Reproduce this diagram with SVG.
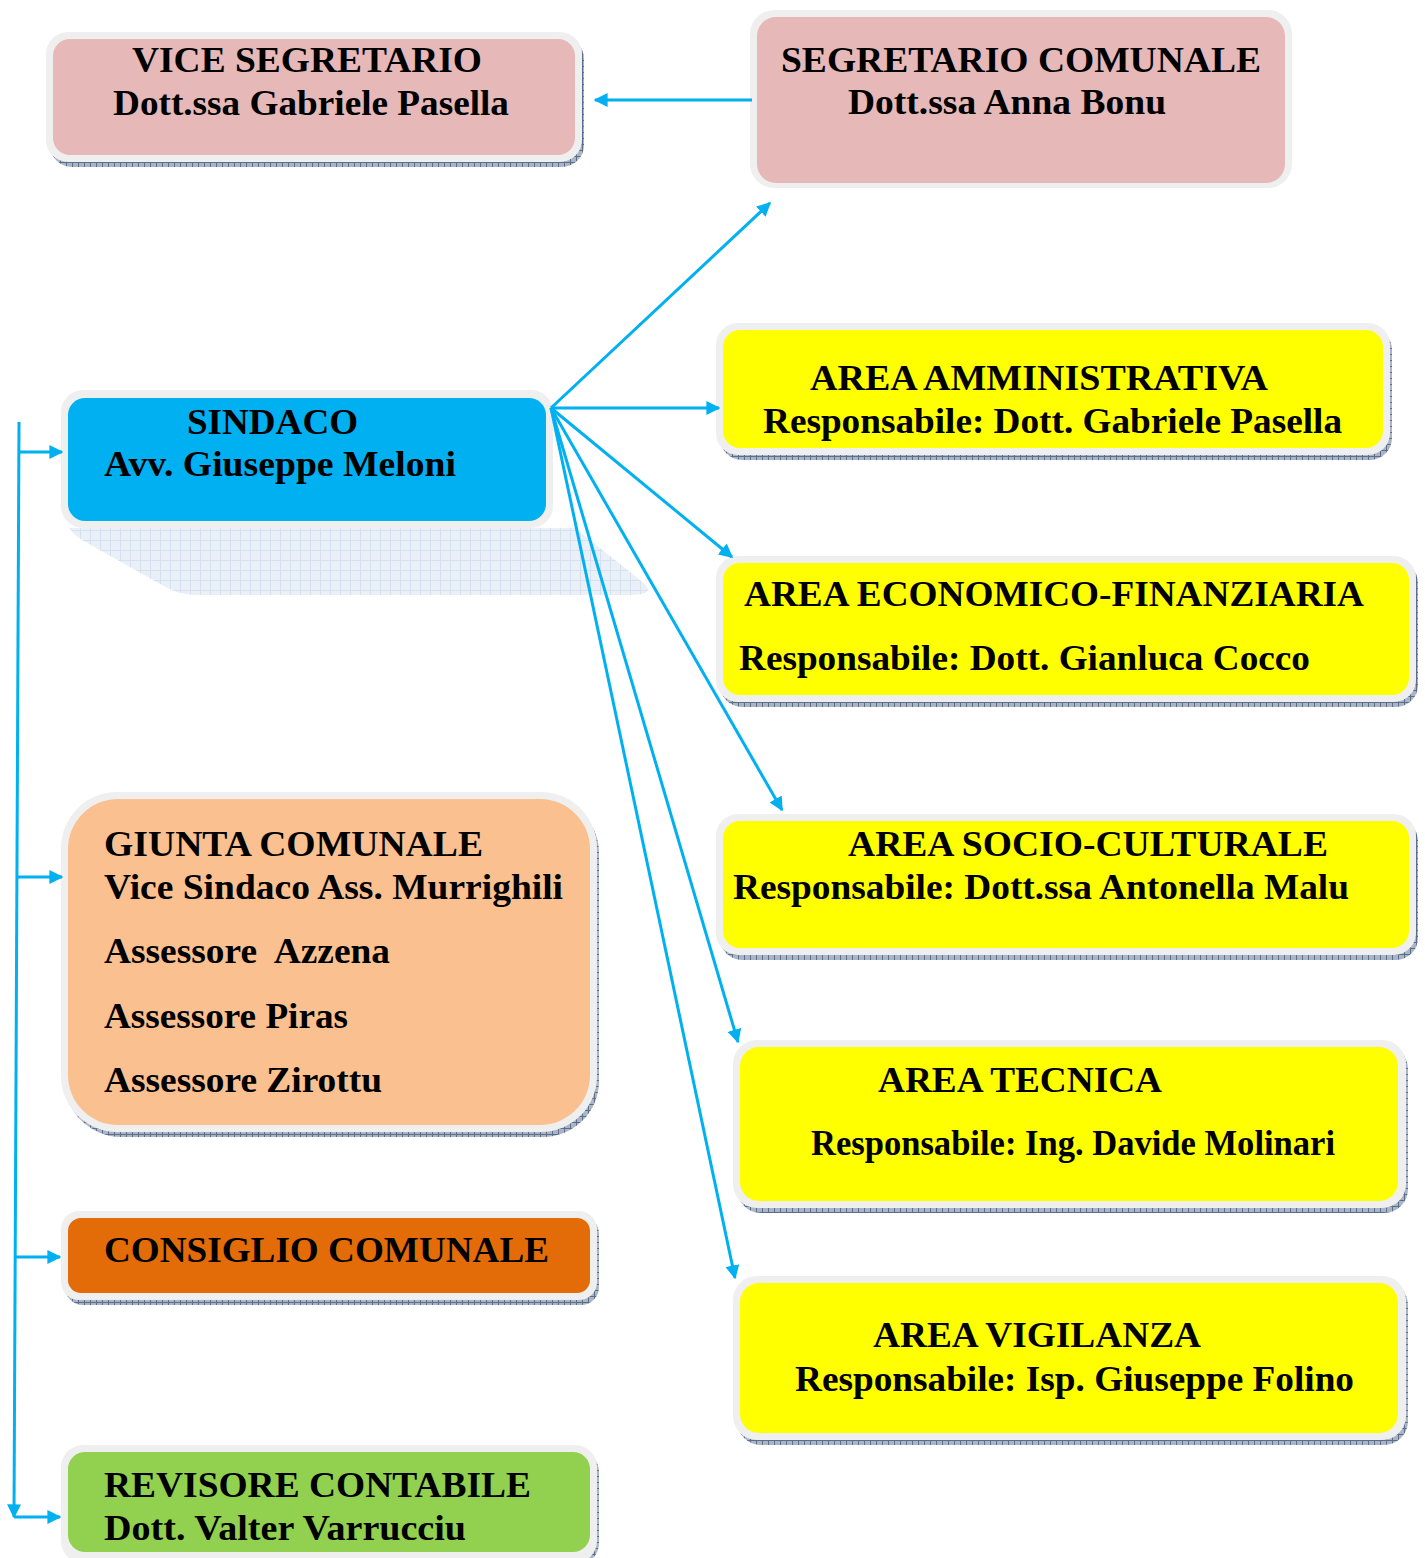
<svg xmlns="http://www.w3.org/2000/svg" width="1425" height="1558" viewBox="0 0 1425 1558">
<style>
.t{font-family:"Liberation Serif","Times New Roman",serif;font-weight:bold;font-size:36px;fill:#000}
.out{fill:#efefef}
.sh{fill:url(#hatch)}
.c{stroke:#00b0f0;stroke-width:3;fill:none}
.a{marker-end:url(#ah)}
</style>
<defs>
<pattern id="hatch" width="6" height="6" patternUnits="userSpaceOnUse">
<rect width="6" height="6" fill="#a9b4c6"/>
<path d="M0 0.5H6M0.5 0V6" stroke="#5d6e8a" stroke-width="1"/>
</pattern>
<pattern id="grid" width="10" height="10" patternUnits="userSpaceOnUse">
<rect width="10" height="10" fill="#eaf0f8"/>
<path d="M0 0.5H10M0.5 0V10" stroke="#d6e0ee" stroke-width="1"/>
</pattern>
<marker id="ah" viewBox="0 0 10 10" refX="9" refY="5" markerWidth="14" markerHeight="14" markerUnits="userSpaceOnUse" orient="auto">
<path d="M0 0L10 5L0 10z" fill="#00b0f0"/>
</marker>
</defs>

<g id="vice-segretario">
<rect class="sh" x="50" y="37" width="534" height="130" rx="22"/>
<rect class="out" x="46" y="32" width="536" height="130" rx="22"/>
<rect x="53" y="39" width="522" height="116" rx="17" fill="#e6b8b7"/>
<text class="t" x="132" y="72" textLength="350" lengthAdjust="spacingAndGlyphs">VICE SEGRETARIO</text>
<text class="t" x="113" y="115" textLength="396" lengthAdjust="spacingAndGlyphs">Dott.ssa Gabriele Pasella</text>
</g>

<g id="segretario">
<rect class="out" x="750" y="10" width="542" height="178" rx="24"/>
<rect x="757" y="17" width="528" height="166" rx="19" fill="#e6b8b7"/>
<text class="t" x="781" y="72" textLength="480" lengthAdjust="spacingAndGlyphs">SEGRETARIO COMUNALE</text>
<text class="t" x="848" y="114" textLength="318" lengthAdjust="spacingAndGlyphs">Dott.ssa Anna Bonu</text>
</g>

<g id="sindaco">
<path d="M70 528 L575 528 L640 580 Q660 595 630 595 L195 595 Q178 595 160 584 L82 540 Q70 532 70 528 Z" fill="url(#grid)"/>
<rect class="out" x="61" y="390" width="492" height="138" rx="22"/>
<rect x="68" y="398" width="478" height="123" rx="17" fill="#00b0f0"/>
<text class="t" x="187" y="434" textLength="171" lengthAdjust="spacingAndGlyphs">SINDACO</text>
<text class="t" x="104" y="476" textLength="352" lengthAdjust="spacingAndGlyphs">Avv. Giuseppe Meloni</text>
</g>

<g id="area-amministrativa">
<rect class="sh" x="720" y="328" width="672" height="132" rx="22"/>
<rect class="out" x="716" y="323" width="674" height="132" rx="22"/>
<rect x="723" y="330" width="660" height="118" rx="17" fill="#ffff00"/>
<text class="t" x="810" y="390" textLength="458" lengthAdjust="spacingAndGlyphs">AREA AMMINISTRATIVA</text>
<text class="t" x="763" y="433" textLength="579" lengthAdjust="spacingAndGlyphs">Responsabile: Dott. Gabriele Pasella</text>
</g>

<g id="area-economico">
<rect class="sh" x="720" y="561" width="698" height="146" rx="22"/>
<rect class="out" x="716" y="556" width="700" height="146" rx="22"/>
<rect x="723" y="563" width="686" height="132" rx="17" fill="#ffff00"/>
<text class="t" x="744" y="606" textLength="620" lengthAdjust="spacingAndGlyphs">AREA ECONOMICO-FINANZIARIA</text>
<text class="t" x="739" y="670" textLength="571" lengthAdjust="spacingAndGlyphs">Responsabile: Dott. Gianluca Cocco</text>
</g>

<g id="area-socio-culturale">
<rect class="sh" x="720" y="819" width="698" height="141" rx="22"/>
<rect class="out" x="716" y="814" width="700" height="141" rx="22"/>
<rect x="723" y="821" width="686" height="127" rx="17" fill="#ffff00"/>
<text class="t" x="848" y="856" textLength="480" lengthAdjust="spacingAndGlyphs">AREA SOCIO-CULTURALE</text>
<text class="t" x="733" y="899" textLength="616" lengthAdjust="spacingAndGlyphs">Responsabile: Dott.ssa Antonella Malu</text>
</g>

<g id="area-tecnica">
<rect class="sh" x="737" y="1045" width="671" height="168" rx="24"/>
<rect class="out" x="733" y="1040" width="673" height="168" rx="24"/>
<rect x="740" y="1047" width="658" height="154" rx="19" fill="#ffff00"/>
<text class="t" x="878" y="1092" textLength="284" lengthAdjust="spacingAndGlyphs">AREA TECNICA</text>
<text class="t" x="811" y="1155" font-size="33" textLength="524" lengthAdjust="spacingAndGlyphs">Responsabile: Ing. Davide Molinari</text>
</g>

<g id="area-vigilanza">
<rect class="sh" x="737" y="1281" width="671" height="164" rx="24"/>
<rect class="out" x="733" y="1276" width="673" height="164" rx="24"/>
<rect x="740" y="1283" width="658" height="150" rx="19" fill="#ffff00"/>
<text class="t" x="873" y="1347" textLength="328" lengthAdjust="spacingAndGlyphs">AREA VIGILANZA</text>
<text class="t" x="795" y="1391" textLength="559" lengthAdjust="spacingAndGlyphs">Responsabile: Isp. Giuseppe Folino</text>
</g>

<g id="giunta">
<rect class="sh" x="65" y="797" width="534" height="340" rx="56"/>
<rect class="out" x="61" y="792" width="536" height="340" rx="56"/>
<rect x="68" y="799" width="522" height="326" rx="50" fill="#fac090"/>
<text class="t" x="104" y="856" textLength="379" lengthAdjust="spacingAndGlyphs">GIUNTA COMUNALE</text>
<text class="t" x="104" y="899" textLength="459" lengthAdjust="spacingAndGlyphs">Vice Sindaco Ass. Murrighili</text>
<text class="t" x="104" y="963" textLength="286" lengthAdjust="spacingAndGlyphs" xml:space="preserve">Assessore  Azzena</text>
<text class="t" x="104" y="1028" textLength="244" lengthAdjust="spacingAndGlyphs">Assessore Piras</text>
<text class="t" x="104" y="1092" textLength="278" lengthAdjust="spacingAndGlyphs">Assessore Zirottu</text>
</g>

<g id="consiglio">
<rect class="sh" x="65" y="1216" width="534" height="89" rx="18"/>
<rect class="out" x="61" y="1211" width="536" height="89" rx="18"/>
<rect x="68" y="1218" width="522" height="75" rx="13" fill="#e36c09"/>
<text class="t" x="104" y="1262" textLength="445" lengthAdjust="spacingAndGlyphs">CONSIGLIO COMUNALE</text>
</g>

<g id="revisore">
<rect class="sh" x="65" y="1450" width="534" height="115" rx="22"/>
<rect class="out" x="61" y="1445" width="536" height="118" rx="22"/>
<rect x="68" y="1452" width="522" height="100" rx="17" fill="#92d050"/>
<text class="t" x="104" y="1497" textLength="427" lengthAdjust="spacingAndGlyphs">REVISORE CONTABILE</text>
<text class="t" x="104" y="1540" textLength="362" lengthAdjust="spacingAndGlyphs">Dott. Valter Varrucciu</text>
</g>

<g id="connectors">
<line class="c a" x1="752" y1="100" x2="595" y2="100"/>
<line class="c a" x1="551" y1="408" x2="770" y2="203"/>
<line class="c a" x1="551" y1="408" x2="719" y2="408"/>
<line class="c a" x1="551" y1="408" x2="732" y2="557"/>
<line class="c a" x1="551" y1="408" x2="782" y2="810"/>
<line class="c a" x1="551" y1="408" x2="738" y2="1042"/>
<line class="c a" x1="551" y1="408" x2="735" y2="1278"/>
<line class="c a" x1="19" y1="422" x2="14" y2="1517"/>
<line class="c a" x1="19" y1="452" x2="62" y2="452"/>
<line class="c a" x1="18" y1="877" x2="62" y2="877"/>
<line class="c a" x1="16" y1="1257" x2="60" y2="1257"/>
<line class="c a" x1="14" y1="1517" x2="60" y2="1517"/>
</g>
</svg>
